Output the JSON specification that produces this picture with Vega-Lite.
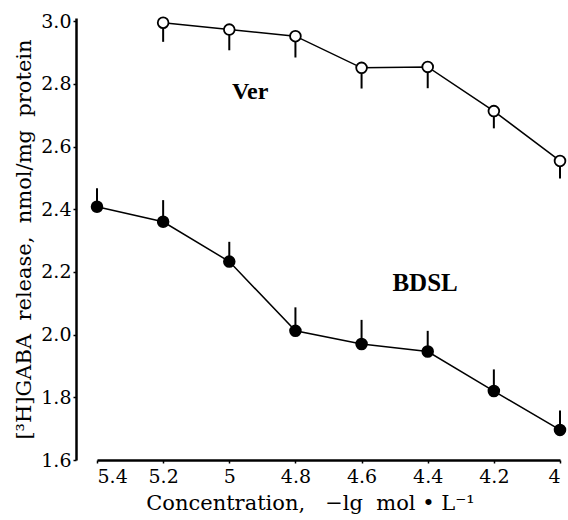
{
  "$schema": "https://vega.github.io/schema/vega-lite/v6.json",
  "width": 486,
  "height": 442,
  "autosize": "none",
  "padding": {"left": 76, "top": 18, "right": 6, "bottom": 60},
  "background": "white",
  "config": {"view": {"stroke": null}, "font": "DejaVu Serif"},
  "datasets": {
    "pts": [
      {"series": "Ver", "x": 5.2, "y": 2.995, "e": 2.934},
      {"series": "Ver", "x": 5.0, "y": 2.973, "e": 2.907},
      {"series": "Ver", "x": 4.8, "y": 2.952, "e": 2.884},
      {"series": "Ver", "x": 4.6, "y": 2.851, "e": 2.785},
      {"series": "Ver", "x": 4.4, "y": 2.854, "e": 2.786},
      {"series": "Ver", "x": 4.2, "y": 2.713, "e": 2.658},
      {"series": "Ver", "x": 4.0, "y": 2.554, "e": 2.498},
      {"series": "BDSL", "x": 5.4, "y": 2.408, "e": 2.467},
      {"series": "BDSL", "x": 5.2, "y": 2.360, "e": 2.429},
      {"series": "BDSL", "x": 5.0, "y": 2.233, "e": 2.296},
      {"series": "BDSL", "x": 4.8, "y": 2.012, "e": 2.087},
      {"series": "BDSL", "x": 4.6, "y": 1.970, "e": 2.047},
      {"series": "BDSL", "x": 4.4, "y": 1.946, "e": 2.012},
      {"series": "BDSL", "x": 4.2, "y": 1.820, "e": 1.889},
      {"series": "BDSL", "x": 4.0, "y": 1.696, "e": 1.758}
    ],
    "labels": [
      {"text": "Ver", "x": 4.937, "y": 2.774, "size": 24},
      {"text": "BDSL", "x": 4.408, "y": 2.165, "size": 25}
    ]
  },
  "layer": [
    {
      "data": {"name": "pts"},
      "mark": {"type": "rule", "color": "black", "strokeWidth": 2},
      "encoding": {
        "x": {"field": "x", "type": "quantitative"},
        "y": {"field": "y", "type": "quantitative"},
        "y2": {"field": "e"}
      }
    },
    {
      "data": {"name": "pts"},
      "mark": {"type": "line", "color": "black", "strokeWidth": 1.5},
      "encoding": {
        "x": {"field": "x", "type": "quantitative"},
        "y": {"field": "y", "type": "quantitative"},
        "detail": {"field": "series"}
      }
    },
    {
      "data": {"name": "pts"},
      "mark": {"type": "point", "filled": false, "stroke": "black", "strokeWidth": 1.8, "opacity": 1, "size": 115},
      "encoding": {
        "x": {"field": "x", "type": "quantitative"},
        "y": {"field": "y", "type": "quantitative"},
        "fill": {
          "field": "series", "type": "nominal",
          "scale": {"domain": ["Ver", "BDSL"], "range": ["white", "black"]},
          "legend": null
        }
      }
    },
    {
      "data": {"name": "labels"},
      "mark": {"type": "text", "font": "Liberation Serif", "fontWeight": "bold", "color": "black"},
      "encoding": {
        "x": {"field": "x", "type": "quantitative"},
        "y": {"field": "y", "type": "quantitative"},
        "text": {"field": "text"},
        "size": {"field": "size", "type": "quantitative", "scale": null, "legend": null}
      }
    }
  ],
  "encoding": {
    "x": {
      "field": "x", "type": "quantitative",
      "scale": {"domain": [5.4, 4.0], "range": [21, 484], "nice": false, "zero": false},
      "axis": {
        "values": [5.4, 5.2, 5.0, 4.8, 4.6, 4.4, 4.2, 4.0],
        "labelExpr": "toString(datum.value)",
        "title": "Concentration,\u00a0\u00a0 −lg\u00a0 mol • L⁻¹",
        "titleX": 234,
        "titleFont": "DejaVu Serif", "titleFontSize": 21, "titleFontWeight": "normal", "titleColor": "black",
        "titlePadding": 6,
        "labelFont": "DejaVu Serif", "labelFontSize": 19, "labelColor": "black", "labelPadding": 4,
        "domainColor": "black", "domainWidth": 2.5,
        "tickColor": "black", "tickSize": 3, "tickWidth": 1.5, "grid": false
      }
    },
    "y": {
      "field": "y", "type": "quantitative",
      "scale": {"domain": [1.6, 3.01], "nice": false, "zero": false},
      "axis": {
        "values": [1.6, 1.8, 2.0, 2.2, 2.4, 2.6, 2.8, 3.0],
        "format": ".1f",
        "title": "[³H]GABA\u00a0 release,\u00a0 nmol/mg\u00a0 protein",
        "titleFont": "DejaVu Serif", "titleFontSize": 21, "titleFontWeight": "normal", "titleColor": "black",
        "titlePadding": 6,
        "labelFont": "DejaVu Serif", "labelFontSize": 19, "labelColor": "black", "labelPadding": 2,
        "domainColor": "black", "domainWidth": 2.5,
        "tickColor": "black", "tickSize": 3, "tickWidth": 1.5, "grid": false
      }
    }
  }
}
